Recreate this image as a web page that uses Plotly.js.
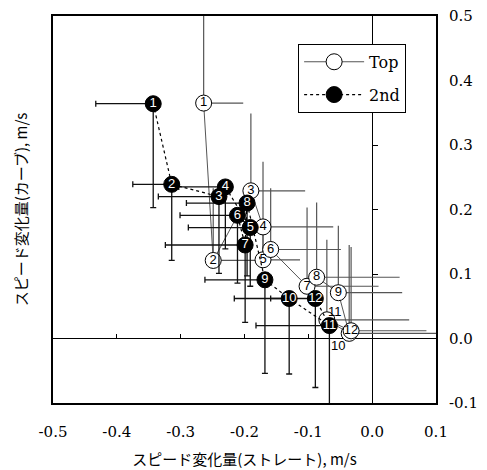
<!DOCTYPE html>
<html><head><meta charset="utf-8">
<script src="https://cdn.plot.ly/plotly-3.0.1.min.js"></script>
<style>html,body{margin:0;padding:0;background:#fff}#chart{width:487px;height:470px}</style>
</head><body><div id="chart"></div>
<script>
// ---- data ----
const seriesNames = ['Top', '2nd'];
const pointLabels = ['1','2','3','4','5','6','7','8','9','10','11','12'];

// Top (open circles): error bars shown toward + (right / up)
const topX    = [-0.264, -0.249, -0.190, -0.171, -0.171, -0.159, -0.102, -0.087, -0.053, -0.036, -0.071, -0.033];
const topY    = [ 0.365,  0.121,  0.229,  0.173,  0.122,  0.138,  0.081,  0.095,  0.071,  0.008,  0.029,  0.012];
const topErrX = [ 0.062,  0.070,  0.085,  0.110,  0.058,  0.110,  0.112,  0.130,  0.100,  0.144,  0.129,  0.118];
const topErrY = [ 0.148,  0.112,  0.120,  0.101,  0.050,  0.095,  0.122,  0.116,  0.104,  0.137,  0.124,  0.130];
const topZero = [0,0,0,0,0,0,0,0,0,0,0,0];
// labels of Top 10 and 11 are drawn beside the (hidden) circles
const topOutsideIdx = [9, 10];
const topOutsideShift = [[-11, -12], [8, 8]];

// 2nd (filled circles): error bars shown toward - (left / down)
const secX    = [-0.343, -0.314, -0.240, -0.230, -0.191, -0.211, -0.199, -0.196, -0.168, -0.130, -0.067, -0.089];
const secY    = [ 0.364,  0.239,  0.220,  0.235,  0.172,  0.191,  0.145,  0.210,  0.091,  0.062,  0.020,  0.062];
const secErrX = [ 0.090,  0.061,  0.095,  0.073,  0.097,  0.090,  0.125,  0.095,  0.094,  0.086,  0.115,  0.070];
const secErrY = [ 0.161,  0.118,  0.119,  0.096,  0.091,  0.105,  0.120,  0.113,  0.145,  0.117,  0.130,  0.138];
const secZero = [0,0,0,0,0,0,0,0,0,0,0,0];

const xTickVals = [-0.5, -0.4, -0.3, -0.2, -0.1, 0.0, 0.1];
const xTickText = ['-0.5', '-0.4', '-0.3', '-0.2', '-0.1', '0.0', '0.1'];
const yTickVals = [-0.1, 0.0, 0.1, 0.2, 0.3, 0.4, 0.5];
const yTickText = ['-0.1', '0.0', '0.1', '0.2', '0.3', '0.4', '0.5'];
const xTitle = 'スピード変化量(ストレート), m/s';
const yTitle = 'スピード変化量(カーブ), m/s';

// ---- chart ----
const serif = 'DejaVu Serif, Liberation Serif, serif';
const sans = 'Liberation Sans, Arial, sans-serif';
const jp = 'Noto Sans CJK JP, sans-serif';

const topText = pointLabels.map((t, i) => topOutsideIdx.includes(i) ? '' : t);

const traces = [
  // helper (empty) traces so the overlay axes get drawn
  {x: [], y: [], xaxis: 'x', yaxis: 'y2', type: 'scatter', mode: 'markers', showlegend: false, hoverinfo: 'skip'},
  {x: [], y: [], xaxis: 'x2', yaxis: 'y3', type: 'scatter', mode: 'markers', showlegend: false, hoverinfo: 'skip'},
  {
    x: topX, y: topY, name: seriesNames[0], legendgroup: 'a',
    type: 'scatter', mode: 'lines+markers', cliponaxis: false,
    line: {color: '#555', width: 1},
    marker: {size: 16, color: '#fff', line: {color: '#000', width: 1}},
    error_x: {type: 'data', symmetric: false, array: topErrX, arrayminus: topZero, width: 0, color: '#555', thickness: 1.2},
    error_y: {type: 'data', symmetric: false, array: topErrY, arrayminus: topZero, width: 0, color: '#555', thickness: 1.2}
  },
  {
    x: topX, y: topY, text: topText, showlegend: false, hoverinfo: 'skip',
    type: 'scatter', mode: 'text', cliponaxis: false, textposition: 'middle center',
    textfont: {family: sans, size: 13, color: '#000'}
  },
  {
    x: secX, y: secY, name: seriesNames[1], legendgroup: 'b',
    type: 'scatter', mode: 'lines+markers', cliponaxis: false,
    line: {color: '#000', width: 1.2, dash: 'dot'},
    marker: {size: 16, color: '#000', line: {color: '#000', width: 1}},
    error_x: {type: 'data', symmetric: false, array: secZero, arrayminus: secErrX, width: 3, color: '#111', thickness: 1.3},
    error_y: {type: 'data', symmetric: false, array: secZero, arrayminus: secErrY, width: 3, color: '#111', thickness: 1.3}
  },
  {
    x: secX, y: secY, text: pointLabels, showlegend: false, hoverinfo: 'skip',
    type: 'scatter', mode: 'text', cliponaxis: false, textposition: 'middle center',
    textfont: {family: sans, size: 13, color: '#fff'}
  }
];

const annotations = topOutsideIdx.map((idx, k) => ({
  x: topX[idx], y: topY[idx], xref: 'x', yref: 'y', text: pointLabels[idx], showarrow: false,
  xshift: topOutsideShift[k][0], yshift: topOutsideShift[k][1],
  font: {family: sans, size: 13, color: '#000'}
}));

const layout = {
  width: 487, height: 470,
  margin: {l: 53, r: 51, t: 16, b: 67},
  paper_bgcolor: '#fff', plot_bgcolor: '#fff',
  showlegend: true,
  legend: {
    x: 0.64, y: 0.928, xanchor: 'left', yanchor: 'top',
    bgcolor: '#fff', bordercolor: '#000', borderwidth: 1,
    font: {family: serif, size: 16, color: '#000'},
    traceorder: 'grouped', tracegroupgap: 9, itemwidth: 60
  },
  xaxis: {
    range: [-0.5, 0.1], tickvals: xTickVals, ticktext: xTickText,
    showline: true, mirror: true, linecolor: '#000', linewidth: 2,
    ticks: 'outside', ticklen: 14, tickcolor: 'rgba(0,0,0,0)',
    tickfont: {family: serif, size: 15, color: '#000'},
    showgrid: false, zeroline: true, zerolinecolor: '#000', zerolinewidth: 1,
    title: {text: xTitle, font: {family: jp, size: 15, color: '#000'}, standoff: 14}
  },
  yaxis: {
    range: [-0.1, 0.5], side: 'right', tickvals: yTickVals, ticktext: yTickText,
    ticks: 'outside', ticklen: 8, tickcolor: 'rgba(0,0,0,0)',
    tickfont: {family: serif, size: 15, color: '#000'},
    showline: true, mirror: true, linecolor: '#000', linewidth: 2,
    showgrid: false, zeroline: true, zerolinecolor: '#000', zerolinewidth: 1
  },
  yaxis2: {
    range: [-0.1, 0.5], overlaying: 'y', side: 'left', anchor: 'x',
    showticklabels: false, ticks: '', showline: false, showgrid: false, zeroline: false,
    title: {text: yTitle, font: {family: jp, size: 15, color: '#000'}, standoff: 20}
  },
  xaxis2: {
    range: [-0.5, 0.1], overlaying: 'x', anchor: 'free', position: 1/6, side: 'bottom',
    tickvals: xTickVals, ticks: 'inside', ticklen: 5, tickwidth: 1, tickcolor: '#000',
    showticklabels: false, showline: false, showgrid: false, zeroline: false
  },
  yaxis3: {
    range: [-0.1, 0.5], overlaying: 'y', anchor: 'free', position: 5/6, side: 'left',
    tickvals: yTickVals, ticks: 'inside', ticklen: 5, tickwidth: 1, tickcolor: '#000',
    showticklabels: false, showline: false, showgrid: false, zeroline: false
  },
  annotations: annotations
};

Plotly.newPlot('chart', traces, layout, {staticPlot: true, displayModeBar: false});
</script>
</body></html>
